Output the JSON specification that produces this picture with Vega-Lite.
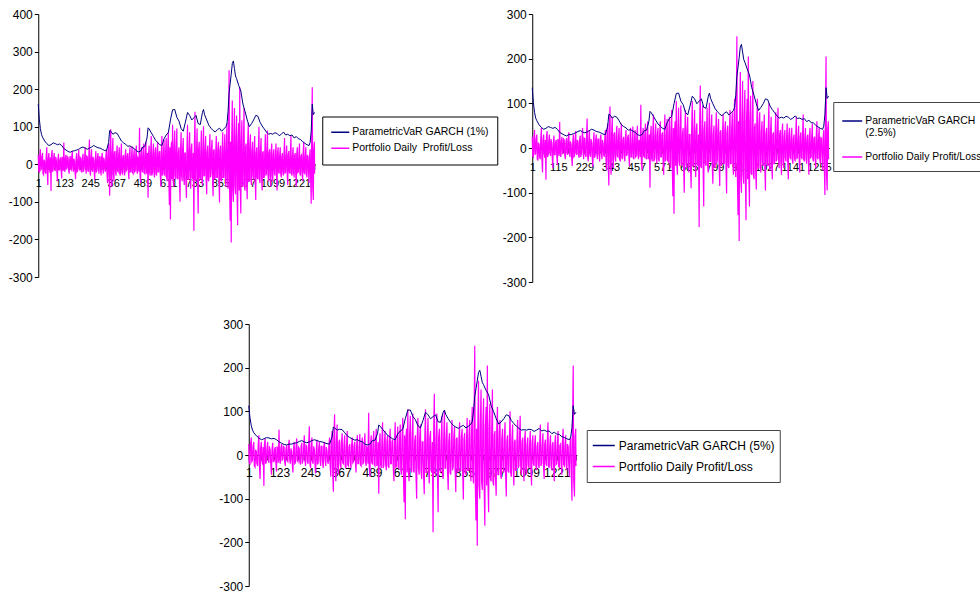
{
"$schema": "https://vega.github.io/schema/vega-lite/v6.json",
"background": "white",
"padding": {"left": 8, "top": 8, "right": 0, "bottom": 0},
"config": {"view": {"stroke": null}, "font": "Liberation Sans",
  "axis": {"labelFont": "Liberation Sans", "labelColor": "black", "domainColor": "black", "tickColor": "black", "grid": false, "labelOverlap": false, "labelFlush": false},
  "legend": {"labelFont": "Liberation Sans", "labelColor": "black", "symbolType": "stroke", "symbolStrokeWidth": 1.5, "labelLimit": 400, "fillColor": "white"}},
"datasets": {
"var": [
{"t":1,"v1":160,"v25":135,"v5":113},{"t":6,"v1":120,"v25":101,"v5":85},{"t":11,"v1":95,"v25":80,"v5":67},{"t":16,"v1":80,"v25":67,"v5":57},{"t":21,"v1":72,"v25":61,"v5":51},{"t":31,"v1":62,"v25":52,"v5":44},{"t":41,"v1":55,"v25":46,"v5":39},{"t":51,"v1":50,"v25":42,"v5":35},{"t":61,"v1":52,"v25":44,"v5":37},{"t":71,"v1":57,"v25":48,"v5":40},{"t":81,"v1":55,"v25":46,"v5":39},{"t":91,"v1":52,"v25":44,"v5":37},{"t":101,"v1":54,"v25":46,"v5":38},{"t":111,"v1":50,"v25":42,"v5":35},{"t":121,"v1":42,"v25":35,"v5":30},{"t":131,"v1":38,"v25":32,"v5":27},{"t":141,"v1":34,"v25":29,"v5":24},{"t":151,"v1":32,"v25":27,"v5":23},{"t":161,"v1":35,"v25":30,"v5":25},{"t":171,"v1":36,"v25":30,"v5":25},{"t":181,"v1":38,"v25":32,"v5":27},{"t":191,"v1":40,"v25":34,"v5":28},{"t":201,"v1":44,"v25":37,"v5":31},{"t":211,"v1":46,"v25":39,"v5":33},{"t":221,"v1":43,"v25":36,"v5":30},{"t":231,"v1":40,"v25":34,"v5":28},{"t":241,"v1":43,"v25":36,"v5":30},{"t":251,"v1":46,"v25":39,"v5":33},{"t":261,"v1":50,"v25":42,"v5":35},{"t":271,"v1":47,"v25":40,"v5":33},{"t":281,"v1":44,"v25":37,"v5":31},{"t":291,"v1":43,"v25":36,"v5":30},{"t":301,"v1":40,"v25":34,"v5":28},{"t":311,"v1":37,"v25":31,"v5":26},{"t":321,"v1":36,"v25":30,"v5":25},{"t":331,"v1":58,"v25":49,"v5":41},{"t":336,"v1":90,"v25":76,"v5":64},{"t":341,"v1":88,"v25":74,"v5":62},{"t":351,"v1":80,"v25":67,"v5":57},{"t":361,"v1":84,"v25":71,"v5":59},{"t":371,"v1":82,"v25":69,"v5":58},{"t":381,"v1":72,"v25":61,"v5":51},{"t":391,"v1":62,"v25":52,"v5":44},{"t":401,"v1":57,"v25":48,"v5":40},{"t":411,"v1":53,"v25":45,"v5":37},{"t":421,"v1":48,"v25":40,"v5":34},{"t":431,"v1":49,"v25":41,"v5":35},{"t":441,"v1":45,"v25":38,"v5":32},{"t":451,"v1":42,"v25":35,"v5":30},{"t":461,"v1":36,"v25":30,"v5":25},{"t":471,"v1":33,"v25":28,"v5":23},{"t":481,"v1":35,"v25":30,"v5":25},{"t":491,"v1":46,"v25":39,"v5":33},{"t":501,"v1":48,"v25":40,"v5":34},{"t":511,"v1":70,"v25":59,"v5":49},{"t":516,"v1":97,"v25":82,"v5":69},{"t":521,"v1":94,"v25":79,"v5":66},{"t":531,"v1":84,"v25":71,"v5":59},{"t":541,"v1":74,"v25":62,"v5":52},{"t":551,"v1":64,"v25":54,"v5":45},{"t":561,"v1":58,"v25":49,"v5":41},{"t":571,"v1":52,"v25":44,"v5":37},{"t":581,"v1":50,"v25":42,"v5":35},{"t":591,"v1":68,"v25":57,"v5":48},{"t":601,"v1":78,"v25":66,"v5":55},{"t":611,"v1":84,"v25":71,"v5":59},{"t":621,"v1":118,"v25":99,"v5":83},{"t":631,"v1":145,"v25":122,"v5":103},{"t":641,"v1":146,"v25":123,"v5":103},{"t":651,"v1":125,"v25":105,"v5":88},{"t":661,"v1":115,"v25":97,"v5":81},{"t":671,"v1":95,"v25":80,"v5":67},{"t":681,"v1":88,"v25":74,"v5":62},{"t":691,"v1":112,"v25":94,"v5":79},{"t":701,"v1":138,"v25":116,"v5":98},{"t":711,"v1":130,"v25":110,"v5":92},{"t":721,"v1":118,"v25":99,"v5":83},{"t":731,"v1":124,"v25":105,"v5":88},{"t":741,"v1":130,"v25":110,"v5":92},{"t":751,"v1":108,"v25":91,"v5":76},{"t":761,"v1":106,"v25":89,"v5":75},{"t":771,"v1":138,"v25":116,"v5":98},{"t":776,"v1":146,"v25":123,"v5":103},{"t":781,"v1":132,"v25":111,"v5":93},{"t":791,"v1":118,"v25":99,"v5":83},{"t":801,"v1":104,"v25":88,"v5":74},{"t":811,"v1":96,"v25":81,"v5":68},{"t":821,"v1":90,"v25":76,"v5":64},{"t":831,"v1":86,"v25":72,"v5":61},{"t":841,"v1":92,"v25":78,"v5":65},{"t":851,"v1":96,"v25":81,"v5":68},{"t":861,"v1":88,"v25":74,"v5":62},{"t":871,"v1":94,"v25":79,"v5":66},{"t":881,"v1":100,"v25":84,"v5":71},{"t":886,"v1":108,"v25":91,"v5":76},{"t":891,"v1":140,"v25":118,"v5":99},{"t":896,"v1":190,"v25":160,"v5":134},{"t":901,"v1":215,"v25":181,"v5":152},{"t":906,"v1":240,"v25":202,"v5":170},{"t":911,"v1":268,"v25":226,"v5":189},{"t":916,"v1":275,"v25":232,"v5":194},{"t":921,"v1":255,"v25":215,"v5":180},{"t":926,"v1":235,"v25":198,"v5":166},{"t":931,"v1":228,"v25":192,"v5":161},{"t":941,"v1":210,"v25":177,"v5":148},{"t":951,"v1":195,"v25":164,"v5":138},{"t":961,"v1":160,"v25":135,"v5":113},{"t":971,"v1":140,"v25":118,"v5":99},{"t":981,"v1":118,"v25":99,"v5":83},{"t":991,"v1":100,"v25":84,"v5":71},{"t":1001,"v1":108,"v25":91,"v5":76},{"t":1011,"v1":118,"v25":99,"v5":83},{"t":1021,"v1":130,"v25":110,"v5":92},{"t":1031,"v1":128,"v25":108,"v5":90},{"t":1041,"v1":112,"v25":94,"v5":79},{"t":1051,"v1":102,"v25":86,"v5":72},{"t":1061,"v1":94,"v25":79,"v5":66},{"t":1071,"v1":86,"v25":72,"v5":61},{"t":1081,"v1":80,"v25":67,"v5":57},{"t":1091,"v1":82,"v25":69,"v5":58},{"t":1101,"v1":80,"v25":67,"v5":57},{"t":1111,"v1":84,"v25":71,"v5":59},{"t":1121,"v1":82,"v25":69,"v5":58},{"t":1131,"v1":76,"v25":64,"v5":54},{"t":1141,"v1":80,"v25":67,"v5":57},{"t":1151,"v1":86,"v25":72,"v5":61},{"t":1161,"v1":78,"v25":66,"v5":55},{"t":1171,"v1":80,"v25":67,"v5":57},{"t":1181,"v1":76,"v25":64,"v5":54},{"t":1191,"v1":78,"v25":66,"v5":55},{"t":1201,"v1":70,"v25":59,"v5":49},{"t":1211,"v1":74,"v25":62,"v5":52},{"t":1221,"v1":68,"v25":57,"v5":48},{"t":1231,"v1":66,"v25":56,"v5":47},{"t":1241,"v1":60,"v25":51,"v5":42},{"t":1251,"v1":56,"v25":47,"v5":40},{"t":1261,"v1":52,"v25":44,"v5":37},{"t":1271,"v1":50,"v25":42,"v5":35},{"t":1276,"v1":58,"v25":49,"v5":41},{"t":1281,"v1":88,"v25":74,"v5":62},{"t":1286,"v1":160,"v25":135,"v5":113},{"t":1291,"v1":132,"v25":111,"v5":93},{"t":1297,"v1":138,"v25":116,"v5":98}
],
"pl": [
{"t":1,"pl":25},{"t":6,"pl":-20},{"t":11,"pl":40},{"t":16,"pl":-12},{"t":21,"pl":30},{"t":26,"pl":-28},{"t":31,"pl":8},{"t":36,"pl":-25},{"t":41,"pl":45},{"t":46,"pl":-55},
{"t":51,"pl":30},{"t":56,"pl":-22},{"t":61,"pl":-71},{"t":66,"pl":38},{"t":71,"pl":-15},{"t":76,"pl":30},{"t":81,"pl":-18},{"t":86,"pl":10},{"t":91,"pl":-45},{"t":96,"pl":28},
{"t":101,"pl":-15},{"t":106,"pl":18},{"t":111,"pl":-38},{"t":116,"pl":12},{"t":121,"pl":58},{"t":126,"pl":-20},{"t":131,"pl":25},{"t":136,"pl":-10},{"t":141,"pl":18},{"t":146,"pl":-25},
{"t":151,"pl":22},{"t":156,"pl":-15},{"t":161,"pl":35},{"t":166,"pl":-20},{"t":171,"pl":8},{"t":176,"pl":-40},{"t":181,"pl":30},{"t":186,"pl":-18},{"t":191,"pl":38},{"t":196,"pl":-15},
{"t":201,"pl":15},{"t":206,"pl":-22},{"t":211,"pl":28},{"t":216,"pl":-12},{"t":221,"pl":45},{"t":226,"pl":-25},{"t":231,"pl":20},{"t":236,"pl":-20},{"t":241,"pl":66},{"t":246,"pl":-30},
{"t":251,"pl":40},{"t":256,"pl":-20},{"t":261,"pl":12},{"t":266,"pl":-42},{"t":271,"pl":35},{"t":276,"pl":-18},{"t":281,"pl":30},{"t":286,"pl":-25},{"t":291,"pl":20},{"t":296,"pl":-30},
{"t":301,"pl":30},{"t":306,"pl":-25},{"t":311,"pl":10},{"t":316,"pl":-20},{"t":321,"pl":40},{"t":326,"pl":-50},{"t":331,"pl":55},{"t":336,"pl":-84},{"t":341,"pl":93},{"t":346,"pl":-60},
{"t":351,"pl":70},{"t":356,"pl":-45},{"t":361,"pl":35},{"t":366,"pl":-30},{"t":371,"pl":50},{"t":376,"pl":-20},{"t":381,"pl":45},{"t":386,"pl":-30},{"t":391,"pl":55},{"t":396,"pl":-25},
{"t":401,"pl":25},{"t":406,"pl":-30},{"t":411,"pl":40},{"t":416,"pl":-15},{"t":421,"pl":30},{"t":426,"pl":-40},{"t":431,"pl":45},{"t":436,"pl":-20},{"t":441,"pl":48},{"t":446,"pl":-25},
{"t":451,"pl":40},{"t":456,"pl":-18},{"t":461,"pl":50},{"t":466,"pl":-25},{"t":471,"pl":15},{"t":476,"pl":97},{"t":481,"pl":-50},{"t":486,"pl":45},{"t":491,"pl":-20},{"t":496,"pl":55},
{"t":501,"pl":-25},{"t":506,"pl":60},{"t":511,"pl":-20},{"t":516,"pl":-89},{"t":521,"pl":50},{"t":526,"pl":-30},{"t":531,"pl":75},{"t":536,"pl":-25},{"t":541,"pl":55},{"t":546,"pl":-35},
{"t":551,"pl":45},{"t":556,"pl":-30},{"t":561,"pl":60},{"t":566,"pl":-20},{"t":571,"pl":35},{"t":576,"pl":-60},{"t":581,"pl":75},{"t":586,"pl":-25},{"t":591,"pl":65},{"t":596,"pl":-30},
{"t":601,"pl":70},{"t":606,"pl":-45},{"t":611,"pl":85},{"t":616,"pl":-108},{"t":621,"pl":-147},{"t":626,"pl":60},{"t":631,"pl":105},{"t":636,"pl":-60},{"t":641,"pl":90},{"t":646,"pl":-40},
{"t":651,"pl":95},{"t":656,"pl":-40},{"t":661,"pl":45},{"t":666,"pl":-100},{"t":671,"pl":85},{"t":676,"pl":-45},{"t":681,"pl":70},{"t":686,"pl":-55},{"t":691,"pl":30},{"t":696,"pl":-90},
{"t":701,"pl":105},{"t":706,"pl":-40},{"t":711,"pl":85},{"t":716,"pl":-65},{"t":721,"pl":55},{"t":726,"pl":-40},{"t":731,"pl":-177},{"t":736,"pl":140},{"t":741,"pl":-45},{"t":746,"pl":95},
{"t":751,"pl":-131},{"t":756,"pl":60},{"t":761,"pl":-40},{"t":766,"pl":90},{"t":771,"pl":-55},{"t":776,"pl":101},{"t":781,"pl":-30},{"t":786,"pl":75},{"t":791,"pl":-80},{"t":796,"pl":50},
{"t":801,"pl":-45},{"t":806,"pl":80},{"t":811,"pl":-25},{"t":816,"pl":65},{"t":821,"pl":-85},{"t":826,"pl":40},{"t":831,"pl":-35},{"t":836,"pl":75},{"t":841,"pl":-35},{"t":846,"pl":60},
{"t":851,"pl":-102},{"t":856,"pl":50},{"t":861,"pl":-45},{"t":866,"pl":85},{"t":871,"pl":-35},{"t":876,"pl":80},{"t":881,"pl":-60},{"t":886,"pl":110},{"t":891,"pl":-65},{"t":896,"pl":250},
{"t":901,"pl":-150},{"t":906,"pl":-208},{"t":911,"pl":170},{"t":916,"pl":-100},{"t":921,"pl":150},{"t":926,"pl":-80},{"t":931,"pl":130},{"t":936,"pl":-162},{"t":941,"pl":110},{"t":946,"pl":205},
{"t":951,"pl":-131},{"t":956,"pl":117},{"t":961,"pl":-60},{"t":966,"pl":150},{"t":971,"pl":-70},{"t":976,"pl":55},{"t":981,"pl":-93},{"t":986,"pl":110},{"t":991,"pl":-45},{"t":996,"pl":80},
{"t":1001,"pl":-55},{"t":1006,"pl":60},{"t":1011,"pl":-40},{"t":1016,"pl":75},{"t":1021,"pl":-95},{"t":1026,"pl":45},{"t":1031,"pl":-40},{"t":1036,"pl":100},{"t":1041,"pl":-50},{"t":1046,"pl":70},
{"t":1051,"pl":-70},{"t":1056,"pl":35},{"t":1061,"pl":-35},{"t":1066,"pl":80},{"t":1071,"pl":-25},{"t":1076,"pl":90},{"t":1081,"pl":-45},{"t":1086,"pl":40},{"t":1091,"pl":-60},{"t":1096,"pl":55},
{"t":1101,"pl":-45},{"t":1106,"pl":40},{"t":1111,"pl":-30},{"t":1116,"pl":55},{"t":1121,"pl":-70},{"t":1126,"pl":45},{"t":1131,"pl":-25},{"t":1136,"pl":45},{"t":1141,"pl":-35},{"t":1146,"pl":30},
{"t":1151,"pl":-30},{"t":1156,"pl":70},{"t":1161,"pl":-20},{"t":1166,"pl":50},{"t":1171,"pl":-55},{"t":1176,"pl":35},{"t":1181,"pl":-25},{"t":1186,"pl":75},{"t":1191,"pl":-30},{"t":1196,"pl":45},
{"t":1201,"pl":-35},{"t":1206,"pl":30},{"t":1211,"pl":-60},{"t":1216,"pl":45},{"t":1221,"pl":-20},{"t":1226,"pl":55},{"t":1231,"pl":-30},{"t":1236,"pl":25},{"t":1241,"pl":-45},{"t":1246,"pl":60},
{"t":1251,"pl":-25},{"t":1256,"pl":45},{"t":1261,"pl":-35},{"t":1266,"pl":20},{"t":1271,"pl":-50},{"t":1276,"pl":40},{"t":1281,"pl":-105},{"t":1286,"pl":205},{"t":1291,"pl":-95},{"t":1296,"pl":60},
{"t":3,"pl":-18},{"t":8,"pl":22},{"t":13,"pl":-15},{"t":18,"pl":20},{"t":23,"pl":-25},{"t":28,"pl":12},{"t":33,"pl":-20},{"t":38,"pl":18},{"t":43,"pl":-22},{"t":48,"pl":15},
{"t":53,"pl":-12},{"t":58,"pl":18},{"t":63,"pl":25},{"t":68,"pl":-20},{"t":73,"pl":15},{"t":78,"pl":-10},{"t":83,"pl":20},{"t":88,"pl":-18},{"t":93,"pl":12},{"t":98,"pl":-15},
{"t":103,"pl":12},{"t":108,"pl":-15},{"t":113,"pl":20},{"t":118,"pl":-18},{"t":123,"pl":-10},{"t":128,"pl":15},{"t":133,"pl":-12},{"t":138,"pl":20},{"t":143,"pl":-15},{"t":148,"pl":12},
{"t":153,"pl":-12},{"t":158,"pl":20},{"t":163,"pl":-10},{"t":168,"pl":15},{"t":173,"pl":-18},{"t":178,"pl":12},{"t":183,"pl":-20},{"t":188,"pl":14},{"t":193,"pl":-12},{"t":198,"pl":18},
{"t":203,"pl":-15},{"t":208,"pl":18},{"t":213,"pl":-20},{"t":218,"pl":12},{"t":223,"pl":-10},{"t":228,"pl":22},{"t":233,"pl":-15},{"t":238,"pl":20},{"t":243,"pl":-18},{"t":248,"pl":15},
{"t":253,"pl":-15},{"t":258,"pl":20},{"t":263,"pl":-18},{"t":268,"pl":10},{"t":273,"pl":-22},{"t":278,"pl":15},{"t":283,"pl":-12},{"t":288,"pl":20},{"t":293,"pl":-15},{"t":298,"pl":18},
{"t":303,"pl":-12},{"t":308,"pl":18},{"t":313,"pl":-15},{"t":318,"pl":20},{"t":323,"pl":-20},{"t":328,"pl":25},{"t":333,"pl":-30},{"t":338,"pl":40},{"t":343,"pl":-35},{"t":348,"pl":30},
{"t":353,"pl":-25},{"t":358,"pl":30},{"t":363,"pl":-20},{"t":368,"pl":25},{"t":373,"pl":-18},{"t":378,"pl":22},{"t":383,"pl":-25},{"t":388,"pl":20},{"t":393,"pl":-22},{"t":398,"pl":18},
{"t":403,"pl":-15},{"t":408,"pl":20},{"t":413,"pl":-18},{"t":418,"pl":22},{"t":423,"pl":-12},{"t":428,"pl":18},{"t":433,"pl":-20},{"t":438,"pl":15},{"t":443,"pl":-22},{"t":448,"pl":20},
{"t":453,"pl":-20},{"t":458,"pl":22},{"t":463,"pl":-15},{"t":468,"pl":18},{"t":473,"pl":-20},{"t":478,"pl":-25},{"t":483,"pl":20},{"t":488,"pl":-18},{"t":493,"pl":25},{"t":498,"pl":-22},
{"t":503,"pl":20},{"t":508,"pl":-25},{"t":513,"pl":30},{"t":518,"pl":25},{"t":523,"pl":-22},{"t":528,"pl":28},{"t":533,"pl":-30},{"t":538,"pl":25},{"t":543,"pl":-20},{"t":548,"pl":30},
{"t":553,"pl":-25},{"t":558,"pl":28},{"t":563,"pl":-20},{"t":568,"pl":30},{"t":573,"pl":-25},{"t":578,"pl":22},{"t":583,"pl":-30},{"t":588,"pl":25},{"t":593,"pl":-28},{"t":598,"pl":30},
{"t":603,"pl":-35},{"t":608,"pl":40},{"t":613,"pl":-30},{"t":618,"pl":45},{"t":623,"pl":35},{"t":628,"pl":-40},{"t":633,"pl":-35},{"t":638,"pl":45},{"t":643,"pl":-30},{"t":648,"pl":40},
{"t":653,"pl":-35},{"t":658,"pl":30},{"t":663,"pl":-40},{"t":668,"pl":35},{"t":673,"pl":-30},{"t":678,"pl":40},{"t":683,"pl":-35},{"t":688,"pl":30},{"t":693,"pl":-40},{"t":698,"pl":35},
{"t":703,"pl":-40},{"t":708,"pl":35},{"t":713,"pl":-30},{"t":718,"pl":40},{"t":723,"pl":-35},{"t":728,"pl":30},{"t":733,"pl":45},{"t":738,"pl":-40},{"t":743,"pl":35},{"t":748,"pl":-30},
{"t":753,"pl":40},{"t":758,"pl":-35},{"t":763,"pl":30},{"t":768,"pl":-40},{"t":773,"pl":35},{"t":778,"pl":-30},{"t":783,"pl":40},{"t":788,"pl":-35},{"t":793,"pl":30},{"t":798,"pl":-40},
{"t":803,"pl":30},{"t":808,"pl":-35},{"t":813,"pl":40},{"t":818,"pl":-30},{"t":823,"pl":35},{"t":828,"pl":-40},{"t":833,"pl":30},{"t":838,"pl":-35},{"t":843,"pl":40},{"t":848,"pl":-30},
{"t":853,"pl":35},{"t":858,"pl":-40},{"t":863,"pl":30},{"t":868,"pl":-35},{"t":873,"pl":40},{"t":878,"pl":-30},{"t":883,"pl":45},{"t":888,"pl":-40},{"t":893,"pl":50},{"t":898,"pl":-60},
{"t":903,"pl":60},{"t":908,"pl":55},{"t":913,"pl":-70},{"t":918,"pl":65},{"t":923,"pl":-60},{"t":928,"pl":70},{"t":933,"pl":-65},{"t":938,"pl":60},{"t":943,"pl":-70},{"t":948,"pl":-55},
{"t":953,"pl":60},{"t":958,"pl":-55},{"t":963,"pl":50},{"t":968,"pl":-60},{"t":973,"pl":45},{"t":978,"pl":-50},{"t":983,"pl":55},{"t":988,"pl":-45},{"t":993,"pl":50},{"t":998,"pl":-40},
{"t":1003,"pl":35},{"t":1008,"pl":-30},{"t":1013,"pl":35},{"t":1018,"pl":-40},{"t":1023,"pl":30},{"t":1028,"pl":-35},{"t":1033,"pl":30},{"t":1038,"pl":-40},{"t":1043,"pl":35},{"t":1048,"pl":-30},
{"t":1053,"pl":30},{"t":1058,"pl":-35},{"t":1063,"pl":28},{"t":1068,"pl":-30},{"t":1073,"pl":35},{"t":1078,"pl":-25},{"t":1083,"pl":30},{"t":1088,"pl":-28},{"t":1093,"pl":32},{"t":1098,"pl":-30},
{"t":1103,"pl":25},{"t":1108,"pl":-22},{"t":1113,"pl":20},{"t":1118,"pl":-25},{"t":1123,"pl":28},{"t":1128,"pl":-20},{"t":1133,"pl":22},{"t":1138,"pl":-25},{"t":1143,"pl":20},{"t":1148,"pl":-22},
{"t":1153,"pl":22},{"t":1158,"pl":-25},{"t":1163,"pl":20},{"t":1168,"pl":-22},{"t":1173,"pl":25},{"t":1178,"pl":-20},{"t":1183,"pl":22},{"t":1188,"pl":-25},{"t":1193,"pl":20},{"t":1198,"pl":-22},
{"t":1203,"pl":22},{"t":1208,"pl":-20},{"t":1213,"pl":25},{"t":1218,"pl":-22},{"t":1223,"pl":20},{"t":1228,"pl":-25},{"t":1233,"pl":22},{"t":1238,"pl":-20},{"t":1243,"pl":25},{"t":1248,"pl":-22},
{"t":1253,"pl":20},{"t":1258,"pl":-22},{"t":1263,"pl":25},{"t":1268,"pl":-18},{"t":1273,"pl":22},{"t":1278,"pl":-30},{"t":1283,"pl":50},{"t":1288,"pl":-60},{"t":1293,"pl":40},{"t":1297,"pl":-25}
]
},
"spacing": 30,
"center": true,
"resolve": {"scale": {"color": "independent"}, "legend": {"color": "independent"}},
"vconcat": [
{
"spacing": 3,
"resolve": {"scale": {"color": "independent"}, "legend": {"color": "independent"}},
"hconcat": [
{
"width": 277, "height": 263,
"layer": [
{"data": {"name": "pl"}, "mark": {"type": "line", "strokeWidth": 1.2},
 "encoding": {
  "x": {"field": "t", "type": "quantitative", "scale": {"domain": [1, 1300], "nice": false, "zero": false},
        "axis": {"title": null, "orient": "bottom", "offset": -112.7, "tickCount": 200, "format": "d", "labelExpr": "(datum.value - 1) % 122 == 0 ? datum.label : ''", "labelFontSize": 11, "tickSize": 5, "labelPadding": 8, "labelOverlap": false, "labelFlush": false,
        "values": [1,25.4,49.8,74.2,98.6,123,147.4,171.8,196.2,220.6,245,269.4,293.8,318.2,342.6,367,391.4,415.8,440.2,464.6,489,513.4,537.8,562.2,586.6,611,635.4,659.8,684.2,708.6,733,757.4,781.8,806.2,830.6,855,879.4,903.8,928.2,952.6,977,1001.4,1025.8,1050.2,1074.6,1099,1123.4,1147.8,1172.2,1196.6,1221,1245.4,1269.8,1294.2]}},
  "y": {"field": "pl", "type": "quantitative", "scale": {"domain": [-300, 400], "nice": false, "zero": false},
        "axis": {"title": null, "values": [-300,-200,-100,0,100,200,300,400], "tickCount": 20, "labelExpr": "datum.value < 0 ? '-' + abs(datum.value) : '' + datum.value", "labelOverlap": false, "tickSize": 4, "labelPadding": 2, "labelFontSize": 12}},
  "color": {"datum": "Portfolio Daily\u00a0 Profit/Loss",
            "scale": {"domain": ["ParametricVaR GARCH (1%)", "Portfolio Daily\u00a0 Profit/Loss"], "range": ["#000080", "#FF00FF"]},
            "legend": {"orient": "none", "legendX": 284, "legendY": 102.5, "title": null, "symbolSize": 324, "labelFontSize": 10.5, "labelOffset": 2, "padding": 8, "clipHeight": 15.6, "rowPadding": 0, "strokeColor": "black"}}
 }},
{"data": {"name": "var"}, "mark": {"type": "line", "strokeWidth": 1},
 "encoding": {
  "x": {"field": "t", "type": "quantitative", "axis": {"title": null, "labelOverlap": false, "labelFlush": false}},
  "y": {"field": "v1", "type": "quantitative", "axis": {"title": null, "labelOverlap": false}},
  "color": {"datum": "ParametricVaR GARCH (1%)"}
 }}
]
},
{
"width": 297, "height": 268,
"layer": [
{"data": {"name": "pl"}, "mark": {"type": "line", "strokeWidth": 1.2},
 "encoding": {
  "x": {"field": "t", "type": "quantitative", "scale": {"domain": [1, 1300], "nice": false, "zero": false},
        "axis": {"title": null, "orient": "bottom", "offset": -134, "tickCount": 200, "format": "d", "labelExpr": "(datum.value - 1) % 114 == 0 ? datum.label : ''", "labelFontSize": 11, "tickSize": 5, "labelPadding": 8, "labelOverlap": false, "labelFlush": false,
        "values": [1,23.8,46.6,69.4,92.2,115,137.8,160.6,183.4,206.2,229,251.8,274.6,297.4,320.2,343,365.8,388.6,411.4,434.2,457,479.8,502.6,525.4,548.2,571,593.8,616.6,639.4,662.2,685,707.8,730.6,753.4,776.2,799,821.8,844.6,867.4,890.2,913,935.8,958.6,981.4,1004.2,1027,1049.8,1072.6,1095.4,1118.2,1141,1163.8,1186.6,1209.4,1232.2,1255,1277.8]}},
  "y": {"field": "pl", "type": "quantitative", "scale": {"domain": [-300, 300], "nice": false, "zero": false},
        "axis": {"title": null, "values": [-300,-200,-100,0,100,200,300], "tickCount": 20, "labelExpr": "datum.value < 0 ? '-' + abs(datum.value) : '' + datum.value", "labelOverlap": false, "tickSize": 4, "labelPadding": 2, "labelFontSize": 12}},
  "color": {"datum": "Portfolio Daily Profit/Loss",
            "scale": {"domain": ["ParametricVaR GARCH (2.5%)", "Portfolio Daily Profit/Loss"], "range": ["#000080", "#FF00FF"]},
            "legend": {"orient": "none", "legendX": 301, "legendY": 88, "title": null, "symbolSize": 400, "labelFontSize": 10.4, "labelOffset": 2, "padding": 8, "rowPadding": 7, "strokeColor": "#444444",
                       "labelExpr": "datum.label == 'ParametricVaR GARCH (2.5%)' ? ['ParametricVaR GARCH', '(2.5%)'] : datum.label"}}
 }},
{"data": {"name": "var"}, "mark": {"type": "line", "strokeWidth": 1},
 "encoding": {
  "x": {"field": "t", "type": "quantitative", "axis": {"title": null, "labelOverlap": false, "labelFlush": false}},
  "y": {"field": "v25", "type": "quantitative", "axis": {"title": null, "labelOverlap": false}},
  "color": {"datum": "ParametricVaR GARCH (2.5%)"}
 }}
]
}
]
},
{
"width": 328, "height": 262,
"layer": [
{"data": {"name": "pl"}, "mark": {"type": "line", "strokeWidth": 1.2},
 "encoding": {
  "x": {"field": "t", "type": "quantitative", "scale": {"domain": [1, 1300], "nice": false, "zero": false},
        "axis": {"title": null, "orient": "bottom", "offset": -131, "tickCount": 200, "format": "d", "labelExpr": "(datum.value - 1) % 122 == 0 ? datum.label : ''", "labelFontSize": 12, "tickSize": 5, "labelPadding": 7, "labelOverlap": false, "labelFlush": false,
        "values": [1,25.4,49.8,74.2,98.6,123,147.4,171.8,196.2,220.6,245,269.4,293.8,318.2,342.6,367,391.4,415.8,440.2,464.6,489,513.4,537.8,562.2,586.6,611,635.4,659.8,684.2,708.6,733,757.4,781.8,806.2,830.6,855,879.4,903.8,928.2,952.6,977,1001.4,1025.8,1050.2,1074.6,1099,1123.4,1147.8,1172.2,1196.6,1221,1245.4,1269.8,1294.2]}},
  "y": {"field": "pl", "type": "quantitative", "scale": {"domain": [-300, 300], "nice": false, "zero": false},
        "axis": {"title": null, "values": [-300,-200,-100,0,100,200,300], "tickCount": 20, "labelExpr": "datum.value < 0 ? '-' + abs(datum.value) : '' + datum.value", "labelOverlap": false, "tickSize": 4, "labelPadding": 2, "labelFontSize": 12}},
  "color": {"datum": "Portfolio Daily Profit/Loss",
            "scale": {"domain": ["ParametricVaR GARCH (5%)", "Portfolio Daily Profit/Loss"], "range": ["#000080", "#FF00FF"]},
            "legend": {"orient": "none", "legendX": 338, "legendY": 106, "title": null, "symbolSize": 484, "labelFontSize": 12, "labelOffset": 3, "padding": 5, "clipHeight": 21, "rowPadding": 0, "strokeColor": "#444444"}}
 }},
{"data": {"name": "var"}, "mark": {"type": "line", "strokeWidth": 1},
 "encoding": {
  "x": {"field": "t", "type": "quantitative", "axis": {"title": null, "labelOverlap": false, "labelFlush": false}},
  "y": {"field": "v5", "type": "quantitative", "axis": {"title": null, "labelOverlap": false}},
  "color": {"datum": "ParametricVaR GARCH (5%)"}
 }}
]
}
]
}
